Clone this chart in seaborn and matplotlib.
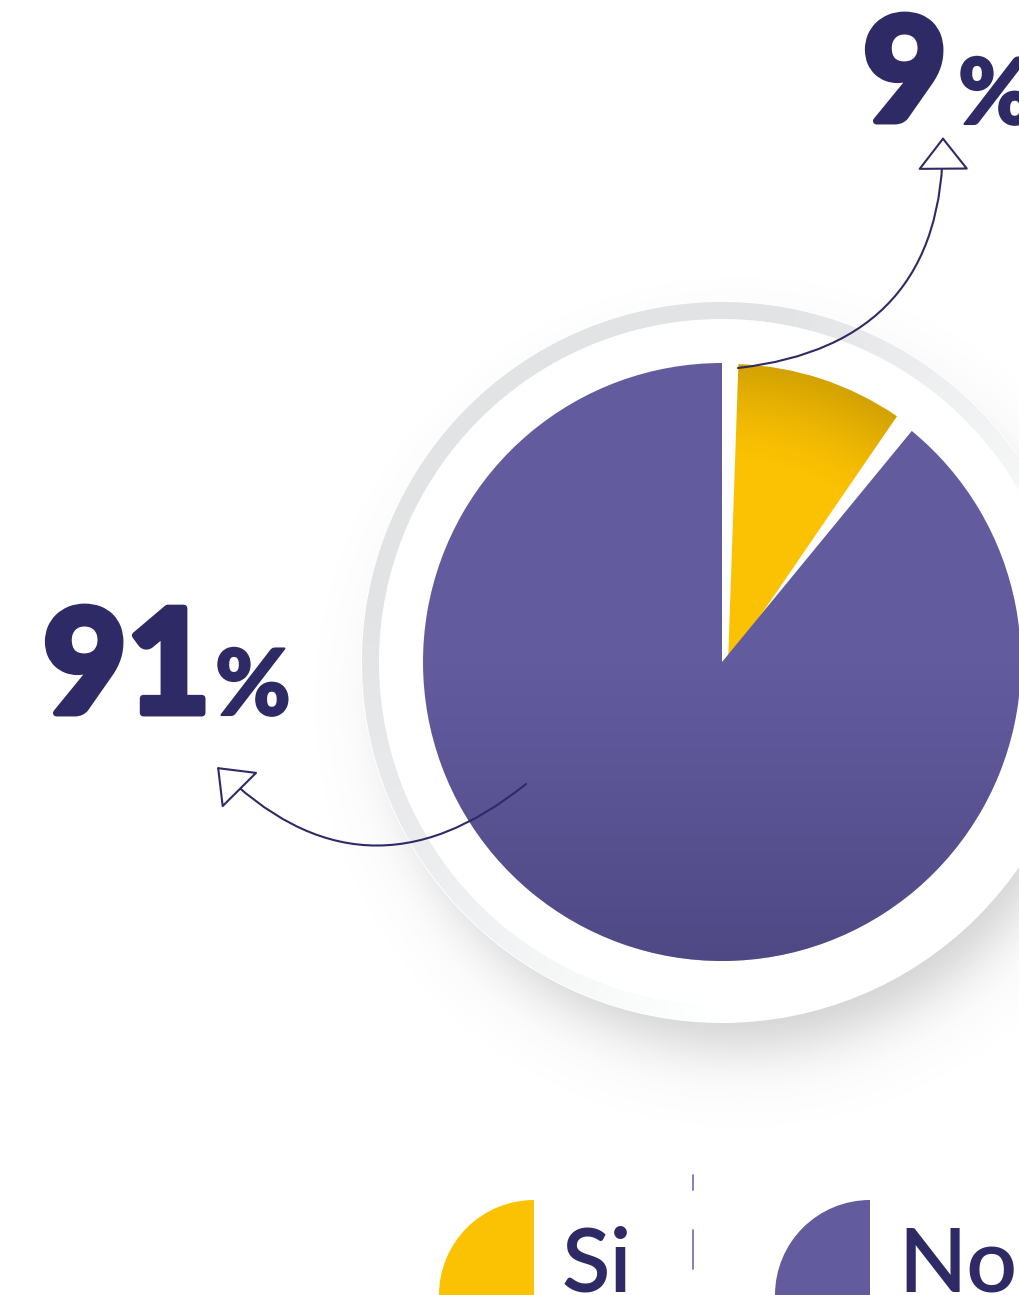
import numpy as np
import matplotlib.pyplot as plt
import matplotlib.patheffects as pe
import seaborn as sns
from matplotlib.patches import Wedge, Circle, FancyArrowPatch

# -------------------------
# data
# -------------------------
categories = ["Si", "No"]
shares = [9, 91]
colors = ["#FBC103", "#625C9F"]
navy = "#2E2A66"

sns.set_theme(style="white")
plt.rcParams["font.family"] = ["Lato", "DejaVu Sans"]
palette = sns.color_palette(colors)

W, H = 1020, 1295


def Y(y):
    # picture rows -> axes units (y up)
    return H - y


fig = plt.figure(figsize=(W / 100, H / 100), dpi=100)
ax = fig.add_axes([0, 0, 1, 1])

cx, cy, r = 722, Y(662), 299

# -------------------------
# soft shadow + white disc + grey ring
# -------------------------
xx, yy = np.meshgrid(np.arange(W) + 0.5, np.arange(H) + 0.5)
d = np.hypot(xx - 740, yy - Y(702))
sh = 0.34 / (1 + np.exp((d - 345) / 18))
img = np.zeros((H, W, 4))
img[..., :3] = 0.45
img[..., 3] = sh
ax.imshow(img, extent=[0, W, 0, H], origin="lower", zorder=0)

ax.add_patch(Circle((cx, cy), 361, fc="white", ec="none", zorder=1))

ring_grey = np.array([0.886, 0.890, 0.898])
knots_a = [-90, -20, 20, 50, 80, 170, 210, 240, 270]
knots_w = [0.0, 0.0, 0.2, 0.55, 1.0, 1.0, 0.7, 0.35, 0.0]
for a in range(-90, 270, 3):
    w = np.interp(a + 1.5, knots_a, knots_w)
    c = (1 - w) * np.ones(3) + w * ring_grey
    ax.add_patch(Wedge((cx, cy), 360, a, a + 3.2, width=17, fc=c, ec="none", zorder=1.5))

# -------------------------
# pie
# -------------------------
wedges, _ = ax.pie(shares, colors=palette, startangle=90, counterclock=False,
                   radius=r, center=(cx, cy),
                   wedgeprops=dict(edgecolor="none", linewidth=0))
# open the pie a little: nudge the "Si" slice, trim the "No" slice for the gaps
si, no = wedges
si.set_theta1(si.theta1 - 2)
si.set_theta2(si.theta2 - 2)
si.set_center((cx + 6, cy - 1))
no.set_theta2(no.theta2 - 7)
for wdg in wedges:
    wdg.set_zorder(2)

# darker grain towards the bottom of the purple and the rim of the yellow
shade = np.zeros((H, W, 4))
shade[..., :3] = np.array([0.2, 0.18, 0.38])
shade[..., 3] = 0.42 * np.clip((Y(yy) - 660) / 300, 0, 1) ** 1.1
im = ax.imshow(shade, extent=[0, W, 0, H], origin="lower", zorder=2.5)
im.set_clip_path(no)

shade2 = np.zeros((H, W, 4))
shade2[..., :3] = np.array([0.55, 0.43, 0.0])
dy = np.hypot(xx - 728, yy - Y(663))
shade2[..., 3] = 0.38 * np.clip((dy - 200) / 100, 0, 1) ** 1.5
im2 = ax.imshow(shade2, extent=[0, W, 0, H], origin="lower", zorder=2.5)
im2.set_clip_path(si)

# -------------------------
# arrows + percentages
# -------------------------
arrow_kw = dict(arrowstyle="-|>,head_length=0.6,head_width=0.47", mutation_scale=36,
                lw=1.5, ec=navy, fc="white", shrinkA=0, shrinkB=0, zorder=4)
ax.add_patch(FancyArrowPatch((738, Y(368)), (943, Y(137)),
                             connectionstyle="arc3,rad=0.45", **arrow_kw))
ax.add_patch(FancyArrowPatch((526, Y(784)), (217, Y(767)),
                             connectionstyle="arc3,rad=-0.45", **arrow_kw))

heavy = [pe.withStroke(linewidth=5, foreground=navy)]
pct = [pe.withStroke(linewidth=1.5, foreground=navy)]
ax.text(863, Y(121), f"{shares[0]}", fontsize=104, fontweight="black",
        color=navy, ha="left", va="baseline", zorder=5, path_effects=heavy)
ax.text(958, Y(124), "%", fontsize=66, fontweight="black",
        color=navy, ha="left", va="baseline", zorder=5, path_effects=pct)
ax.text(43, Y(713), f"{shares[1]}", fontsize=104, fontweight="black",
        color=navy, ha="left", va="baseline", zorder=5, path_effects=heavy)
ax.text(215, Y(715), "%", fontsize=66, fontweight="black",
        color=navy, ha="left", va="baseline", zorder=5, path_effects=pct)

# -------------------------
# legend
# -------------------------
for x0, lab, col in [(534, categories[0], palette[0]), (870, categories[1], palette[1])]:
    ax.add_patch(Wedge((x0, Y(1295)), 95, 90, 180, fc=col, ec="none", zorder=3))
    ax.text(x0 + 28, Y(1292), lab, fontsize=64, fontweight="semibold",
            color=navy, ha="left", va="baseline", zorder=5)

ax.plot([693, 693], [Y(1175), Y(1190)], color="#7C77B0", lw=1.3, zorder=3)
ax.plot([693, 693], [Y(1230), Y(1269)], color="#7C77B0", lw=1.3, zorder=3)

ax.set_xlim(0, W)
ax.set_ylim(0, H)
ax.set_aspect("auto")
ax.axis("off")

plt.savefig("out.png", dpi=100, facecolor="white")
